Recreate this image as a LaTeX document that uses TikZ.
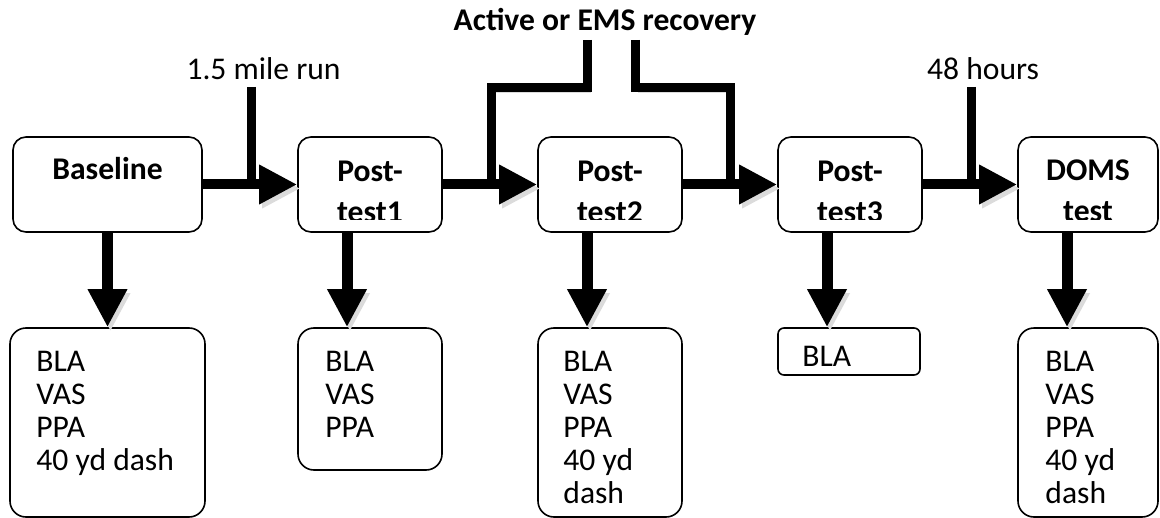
\documentclass[tikz,border=0pt]{standalone}
\usepackage{fontspec}
\setmainfont{Carlito}
\usetikzlibrary{arrows.meta,positioning}
\begin{document}
\begin{tikzpicture}[x=0.5pt,y=-0.5pt,font=\fontsize{15.8pt}{16.5pt}\selectfont] % 1 unit = 1 px of the scheme
\tikzstyle{stage} = [draw, rounded corners=6.5pt, line width=0.8pt, minimum height=47.5pt, inner sep=0pt] % upper box style
\tikzstyle{meas} = [draw, rounded corners=8pt, line width=0.8pt, inner sep=0pt] % lower box style
\tikzstyle{title} = [font=\fontsize{15.8pt}{20.5pt}\selectfont\bfseries, align=center, inner sep=0pt, anchor=base] % box headings, placed by their last line
\tikzstyle{list} = [align=left, inner sep=0pt, anchor=base west] % measured items, placed by their last line
\tikzstyle{softshadow} = [preaction={draw=black!14, transform canvas={shift={(1.5pt,-2pt)}}}] % faint offset shadow
\tikzstyle{flow} = [softshadow, line width=5pt, -{Triangle[length=19pt,width=18.5pt]}] % thick arrow
\tikzstyle{feed} = [softshadow, line width=4.5pt, line join=miter] % thick line without tip
\useasboundingbox (0,0) rectangle (1160,518);
% upper row
\node[stage, minimum width=94.5pt] (base) at (107.5,184.5) {};
\node[stage, minimum width=72pt] (pt1) at (370,184.5) {};
\node[stage, minimum width=72pt] (pt2) at (610,184.5) {};
\node[stage, minimum width=72pt] (pt3) at (850,184.5) {};
\node[stage, minimum width=70pt] (doms) at (1088,184.5) {};
\begin{scope}
\clip (0,0) rectangle (1160,219); % second lines are cut by the box
\node[title] at (107.5,180) {Baseline};
\node[title] at (370,222) {Post-\\test1};
\node[title] at (610,222) {Post-\\test2};
\node[title] at (850,222) {Post-\\test3};
\node[title] at (1088,221) {DOMS\\test};
\end{scope}
% lower row
\node[meas, minimum width=97.5pt, minimum height=94.5pt] (m1) at (107.5,422.5) {};
\node[meas, minimum width=72pt, minimum height=71pt] (m2) at (370,399) {};
\node[meas, minimum width=72pt, minimum height=94.5pt] (m3) at (610,422.5) {};
\node[meas, rounded corners=3pt, minimum width=71pt, minimum height=23.5pt] (m4) at (849,351.5) {};
\node[meas, minimum width=70pt, minimum height=94.5pt] (m5) at (1088,422.5) {};
\node[list] at (36,470) {BLA\\VAS\\PPA\\40 yd dash};
\node[list] at (325,437) {BLA\\VAS\\PPA};
\node[list] at (563,503) {BLA\\VAS\\PPA\\40 yd\\dash};
\node[list] at (802,366) {BLA};
\node[list] at (1045,503) {BLA\\VAS\\PPA\\40 yd\\dash};
% labels above
\node[anchor=base, inner sep=0pt] (run) at (263.5,80) {1.5 mile run};
\node[anchor=base, inner sep=0pt, font=\fontsize{15.8pt}{16.5pt}\selectfont\bfseries] (rec) at (605,31) {Active or EMS recovery};
\node[anchor=base, inner sep=0pt] (wait) at (983,80) {48 hours};
\coordinate (runin) at (251,87);
\coordinate (recl) at (587,40);
\coordinate (recr) at (635,40);
\coordinate (waitin) at (971,87);
% feeds into the main line
\draw[feed] (runin) -- (runin |- base.east);
\draw[feed] (recl) -- (587,88) -- (491,88) -- (491,184.5);
\draw[feed] (recr) -- (635,88) -- (730,88) -- (730,184.5);
\draw[feed] (waitin) -- (waitin |- pt3.east);
% main line
\draw[flow] (base) -- (pt1);
\draw[flow] (pt1) -- (pt2);
\draw[flow] (pt2) -- (pt3);
\draw[flow] (pt3) -- (doms);
% down to the measures
\draw[flow, line width=5.5pt] (base.south) -- (m1.north);
\draw[flow, line width=5.5pt] ([xshift=-11.5pt]pt1.south) -- ([xshift=-11.5pt]m2.north);
\draw[flow, line width=5.5pt] ([xshift=-11.5pt]pt2.south) -- ([xshift=-11.5pt]m3.north);
\draw[flow, line width=5.5pt] ([xshift=-11.5pt]pt3.south) -- ([xshift=-11pt]m4.north);
\draw[flow, line width=5.5pt] ([xshift=-10.5pt]doms.south) -- ([xshift=-10.5pt]m5.north);
\end{tikzpicture}
\end{document}
